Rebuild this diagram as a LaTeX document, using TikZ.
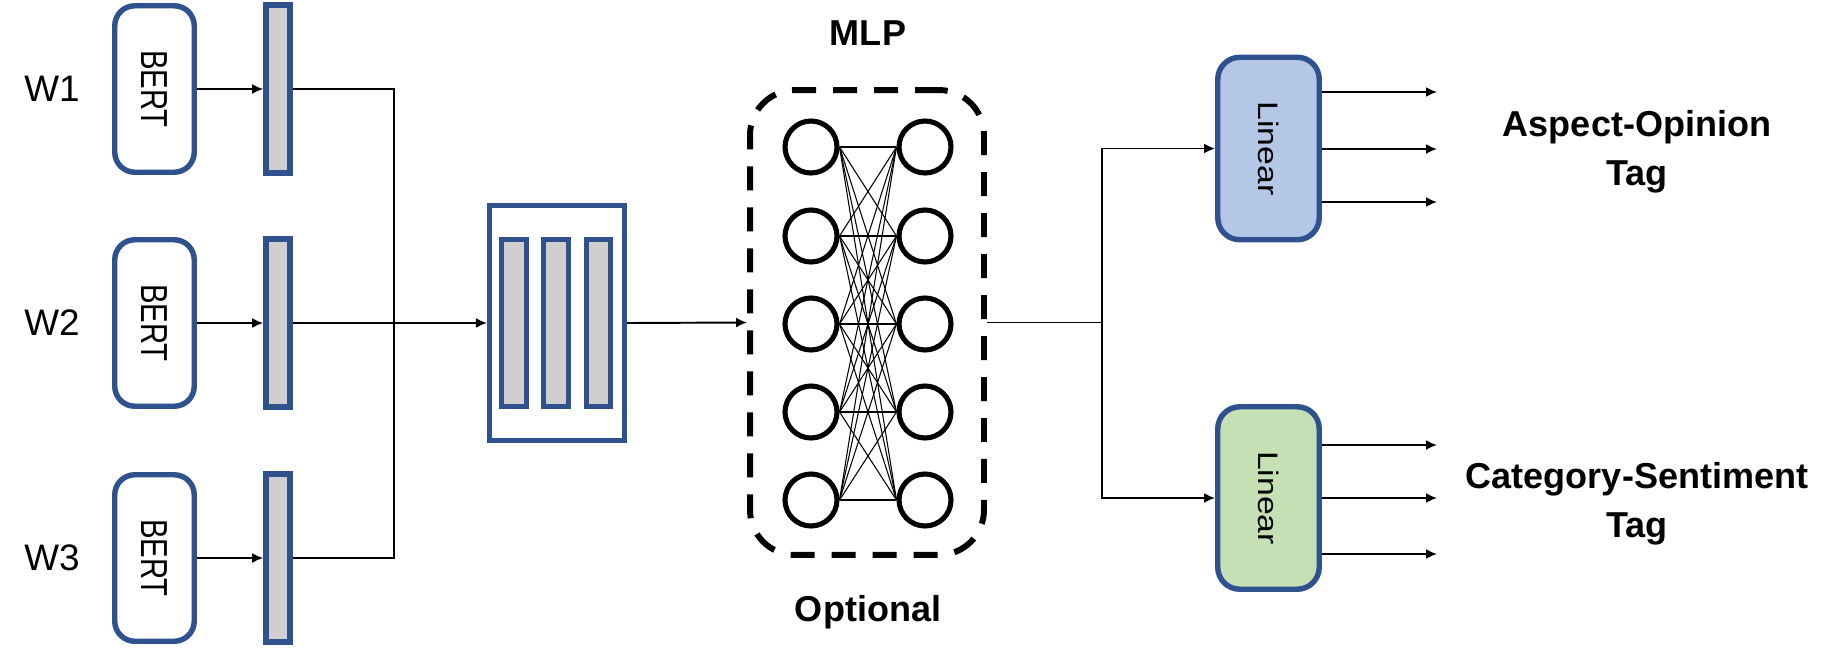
\documentclass[tikz,border=0pt]{standalone}
\usepackage{fontspec}
\setmainfont{Liberation Sans}
\usepackage{tikz}
\usetikzlibrary{arrows.meta,positioning}
\definecolor{encBlue}{RGB}{47,82,143}
\definecolor{vecGray}{RGB}{208,206,206}
\definecolor{linBlue}{RGB}{180,199,231}
\definecolor{linGreen}{RGB}{197,224,180}

\begin{document}
\begin{tikzpicture}[x=0.02cm,y=-0.02cm,
  >={Latex[length=0.22cm,width=0.2cm]},
  conn/.style={line width=1.1pt},
  wire/.style={line width=0.6pt},
  wlabel/.style={font=\fontsize{21}{25}\selectfont},
  tlabel/.style={font=\fontsize{20.5}{28}\selectfont\bfseries,align=center},
  bertbox/.style={draw=encBlue,line width=3.1pt,rounded corners=0.4cm,minimum width=1.59cm,minimum height=3.33cm,inner sep=0pt,font=\fontsize{21.4}{25}\selectfont},
  vecbar/.style={draw=encBlue,fill=vecGray,line width=3.2pt,minimum width=0.48cm,minimum height=3.36cm,inner sep=0pt},
  catbox/.style={draw=encBlue,line width=2.9pt,minimum width=2.7cm,minimum height=4.7cm,inner sep=0pt},
  catbar/.style={draw=encBlue,fill=vecGray,line width=3.1pt,minimum width=0.49cm,minimum height=3.33cm,inner sep=0pt},
  neuron/.style={circle,draw=black,line width=2.9pt,minimum size=1.04cm,inner sep=0pt},
  mlpbox/.style={draw=black,line width=3.4pt,dash pattern=on 0.48cm off 0.34cm,rounded corners=0.9cm,minimum width=4.68cm,minimum height=9.3cm,inner sep=0pt},
  linbox/.style={draw=encBlue,line width=3.1pt,rounded corners=0.44cm,minimum width=2.03cm,minimum height=3.65cm,inner sep=0pt,font=\fontsize{16}{20}\selectfont}
]
\useasboundingbox (0,0) rectangle (1839,656);

\def\rowsY{89,323,558}
\def\neuronY{147,236,324,412,500}

% draw the three encoders
\foreach \y [count=\ni] in \rowsY
{
\node[wlabel] (w\ni) at (52,\y) {W\ni};
\node[bertbox] (bert\ni) at (154.5,\y) {\rotatebox{-90}{\scalebox{0.78}[1]{BERT}}};
\node[vecbar] (bar\ni) at (278,\y) {};
\draw [conn,->] (bert\ni.east) -- (bar\ni.west);
}

% draw the concatenation
\node[catbox] (concat) at (557,323) {};
\foreach \x [count=\ni] in {514,556,598.5}
\node[catbar] (cbar\ni) at (\x,323) {};

\coordinate (merge) at (394,323);
\draw [conn] (bar1.east) -| (merge) |- (bar3.east);
\draw [conn,->] (bar2.east) -- (concat.west);

% draw the mlp
\node[mlpbox] (mlp) at (867,322.5) {};
\node[tlabel] (mlpname) at (868,33) {MLP};
\node[tlabel] (optional) at (868,612) {Optional};

\foreach \y [count=\ni] in \neuronY
{
\node[neuron] (nl\ni) at (811,\y) {};
\node[neuron] (nr\ni) at (925,\y) {};
}
\foreach \i in {1,...,5}
  \foreach \j in {1,...,5}
    \draw [wire] (nl\i.east) -- (nr\j.west);

\draw [conn,->] (concat.east) -- (mlp.west);

% draw the two heads
\node[linbox,fill=linBlue] (linA) at (1268.5,148.5) {\rotatebox{-90}{\scalebox{1.2}[1]{Linear}}};
\node[linbox,fill=linGreen] (linB) at (1268.5,498) {\rotatebox{-90}{\scalebox{1.2}[1]{Linear}}};

\path (mlp.east) ++(115,0) coordinate (split);
\draw [conn] (mlp.east) -- (split);
\draw [conn,->] (split) |- (linA.west);
\draw [conn,->] (split) |- (linB.west);

\foreach \y [count=\ni] in {92,149,202}
{
\coordinate (outA\ni) at (1437,\y);
\draw [conn,->] (outA\ni -| linA.east) -- (outA\ni);
}
\foreach \y [count=\ni] in {445,498,554}
{
\coordinate (outB\ni) at (1437,\y);
\draw [conn,->] (outB\ni -| linB.east) -- (outB\ni);
}

\node[tlabel] (aspect) at (1637,152) {Aspect-Opinion\\Tag};
\node[tlabel] (category) at (1637,504) {Category-Sentiment\\Tag};

\end{tikzpicture}
\end{document}
